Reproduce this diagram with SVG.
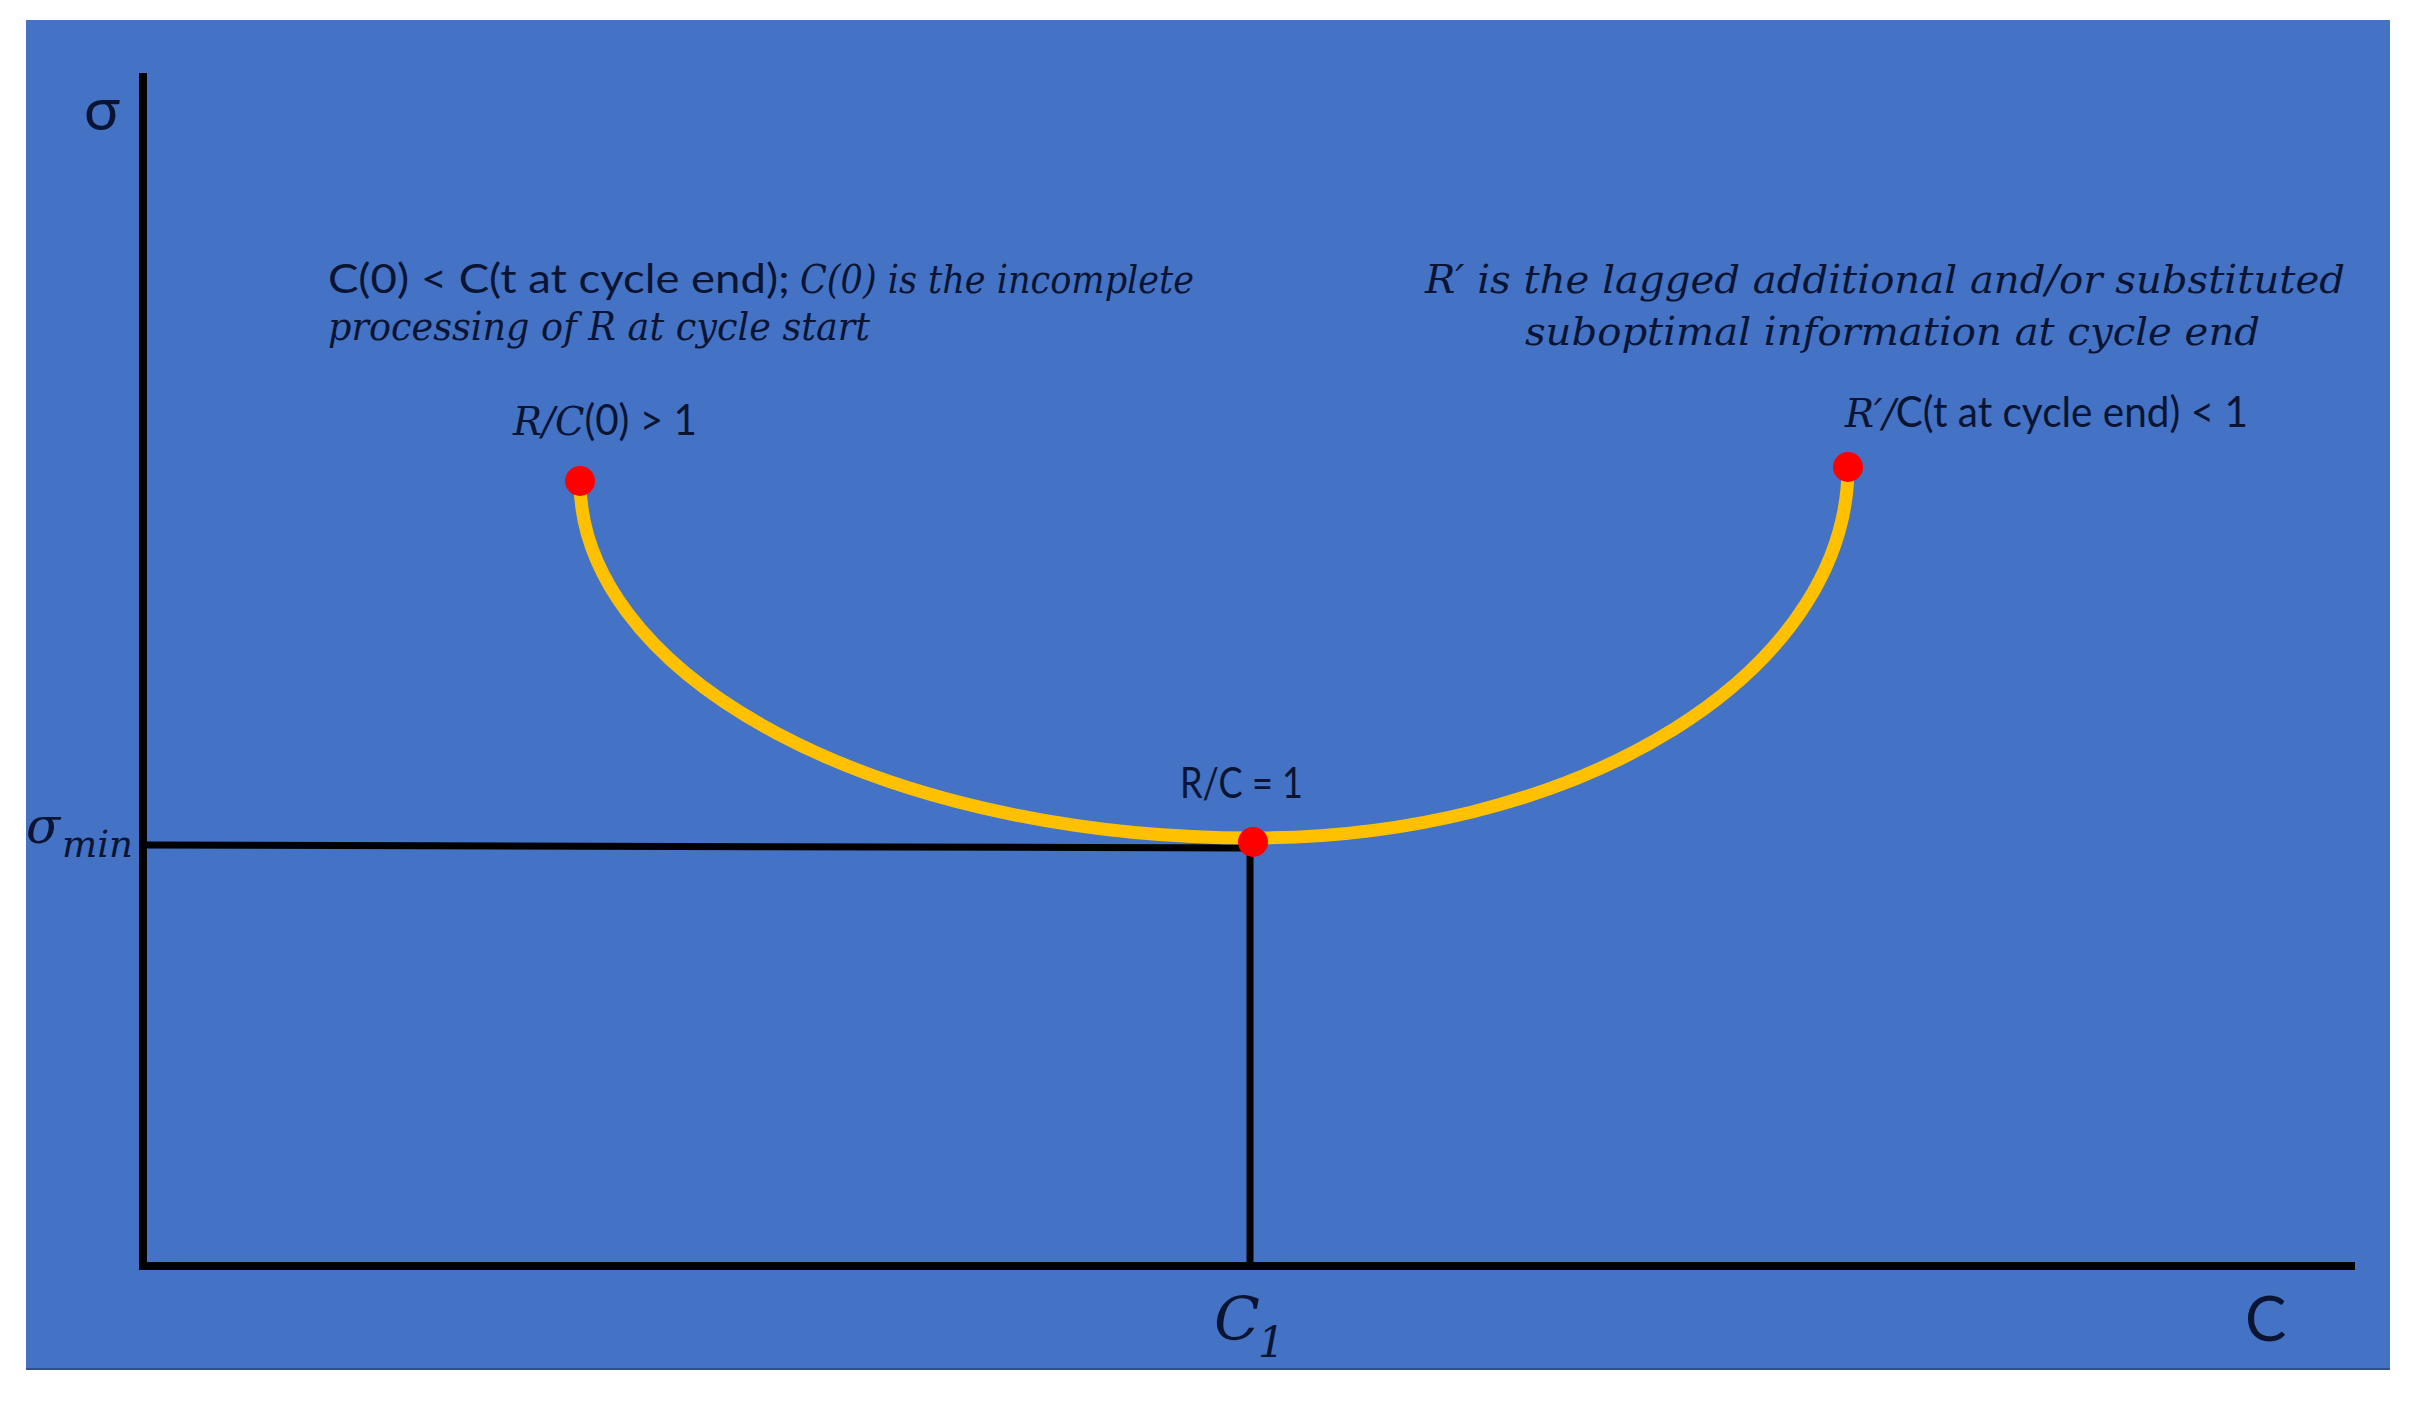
<svg xmlns="http://www.w3.org/2000/svg" width="2416" height="1408" viewBox="0 0 2416 1408">
  <style>
    .sans { font-family: Lato, "Open Sans", "Liberation Sans", sans-serif; fill: #0b1533; }
    .math { font-family: "DejaVu Serif", "Liberation Serif", serif; font-style: italic; fill: #0b1533; }
    .axis { stroke: #000; stroke-width: 8; fill: none; }
    .guide { stroke: #000; stroke-width: 7; fill: none; }
    .curve { stroke: #FFC000; stroke-width: 13; fill: none; }
    .dot { fill: #FF0000; }
  </style>
  <rect width="2416" height="1408" fill="#ffffff"/>
  <rect id="panel" x="26" y="20" width="2364" height="1350" fill="#4472C4"/>
  <line x1="26" y1="1369" x2="2390" y2="1369" stroke="#2F528F" stroke-width="2"/>

  <g id="connectors">
    <path id="y-axis" class="axis" d="M143 73 V1266"/>
    <path id="x-axis" class="axis" d="M139 1266 H2355"/>
    <path id="sigma-min-line" class="guide" d="M147 845 L1250 848"/>
    <path id="c1-line" class="guide" d="M1250 848 V1266"/>
    <path id="cycle-curve" class="curve" d="M580 481 A673 357 0 0 0 1253 838 A595 371 0 0 0 1848 467"/>
  </g>

  <g id="axis-labels">
    <text class="sans" x="84" y="130" font-size="60">σ</text>
    <text class="sans" x="2245" y="1341" font-size="62">C</text>
    <g id="sigma-min">
      <text class="math" x="26" y="843" font-size="50" font-style="normal">σ</text>
      <text class="math" x="62" y="857" font-size="38" textLength="71" lengthAdjust="spacingAndGlyphs">min</text>
    </g>
    <g id="c1">
      <text class="math" x="1214" y="1340" font-size="60">C</text>
      <text class="math" x="1258" y="1357" font-size="42" font-style="normal">1</text>
    </g>
  </g>

  <g id="note-left">
    <text class="sans" x="328" y="293" font-size="41" textLength="462" lengthAdjust="spacingAndGlyphs">C(0) &lt; C(t at cycle end);</text>
    <text class="math" x="800" y="293" font-size="40" textLength="394" lengthAdjust="spacingAndGlyphs">C(0) is the  incomplete</text>
    <text class="math" x="328" y="340" font-size="40" textLength="542" lengthAdjust="spacingAndGlyphs">processing of R at cycle start</text>
  </g>

  <g id="note-right">
    <text class="math" x="1425" y="293" font-size="40" textLength="920" lengthAdjust="spacingAndGlyphs">R′ is the lagged additional and/or substituted</text>
    <text class="math" x="1525" y="345" font-size="40" textLength="735" lengthAdjust="spacingAndGlyphs">suboptimal information at cycle end</text>
  </g>

  <g id="node-start">
    <circle class="dot" cx="580" cy="481" r="15"/>
    <text x="513" y="435" textLength="184" lengthAdjust="spacingAndGlyphs"><tspan class="math" font-size="40">R/C</tspan><tspan class="sans" font-size="42">(0) &gt; 1</tspan></text>
  </g>

  <g id="node-min">
    <circle class="dot" cx="1253" cy="842" r="15"/>
    <text class="sans" x="1180" y="798" font-size="42" textLength="123" lengthAdjust="spacingAndGlyphs">R/C = 1</text>
  </g>

  <g id="node-end">
    <circle class="dot" cx="1848" cy="467" r="15"/>
    <text x="1845" y="427" textLength="403" lengthAdjust="spacingAndGlyphs"><tspan class="math" font-size="40">R′/</tspan><tspan class="sans" font-size="42">C(t at cycle end) &lt; 1</tspan></text>
  </g>
</svg>
